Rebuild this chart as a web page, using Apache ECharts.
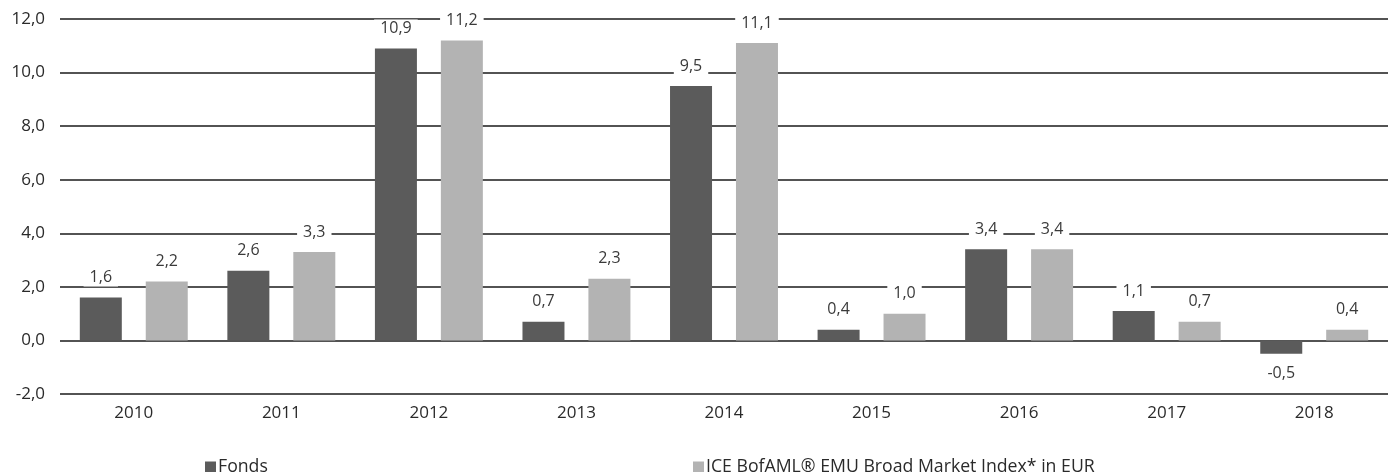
<!DOCTYPE html>
<html><head><meta charset="utf-8">
<script src="https://cdn.jsdelivr.net/npm/echarts@6/dist/echarts.min.js"></script>
<style>html,body{margin:0;padding:0;background:#fff}#c{width:1395px;height:472px}</style>
</head><body><div id="c"></div>
<script>
const categories = ['2010','2011','2012','2013','2014','2015','2016','2017','2018'];
const fonds = [1.6, 2.6, 10.9, 0.7, 9.5, 0.4, 3.4, 1.1, -0.5];
const index = [2.2, 3.3, 11.2, 2.3, 11.1, 1.0, 3.4, 0.7, 0.4];
const seriesNames = ['Fonds', 'ICE BofAML® EMU Broad Market Index* in EUR'];
const fmt = v => v.toFixed(1).replace('.', ',');
const font = '"Open Sans", "Noto Sans", sans-serif';
const chart = echarts.init(document.getElementById('c'), null, {renderer:'canvas'});
function lbl(){
  return {show:true, position:'top', distance:11, fontFamily:font, fontSize:16, color:'#3a3a3a',
    backgroundColor:'#fff', padding:[0,6,0,6], lineHeight:18,
    formatter:p=>fmt(p.value)};
}
function mk(name, data, color){
  return {name, type:'bar', data: data.map(v => v < 0 ? {value:v, label:{position:'bottom'}} : v),
    itemStyle:{color}, barWidth:42, barGap:'57%', label:lbl(), z:3};
}
const legendText = {fontFamily:font, fontSize:17.7, color:'#2a2a2a', padding:[0,0,0,-3]};
chart.setOption({
  animation:false,
  textStyle:{fontFamily:font},
  grid:{left:60, right:7, top:19, bottom:78, containLabel:false},
  legend:[
    {data:[seriesNames[0]], left:200, top:453, itemWidth:11, itemHeight:11, itemGap:2,
     textStyle:legendText, icon:'rect'},
    {data:[seriesNames[1]], left:688, top:453, itemWidth:11, itemHeight:11, itemGap:2,
     textStyle:legendText, icon:'rect'}
  ],
  xAxis:{type:'category', data:categories, axisLine:{show:false}, axisTick:{show:false},
    axisLabel:{fontFamily:font, fontSize:17, color:'#2a2a2a', margin:11}},
  yAxis:{type:'value', min:-2, max:12, interval:2, axisLine:{show:false}, axisTick:{show:false},
    axisLabel:{fontFamily:font, fontSize:17, color:'#2a2a2a', margin:15, formatter:v=>fmt(v)},
    splitLine:{lineStyle:{color:'#1a1a1a', width:1.5}}},
  series:[mk(seriesNames[0], fonds, '#5b5b5b'), mk(seriesNames[1], index, '#b3b3b3')]
});
</script></body></html>
